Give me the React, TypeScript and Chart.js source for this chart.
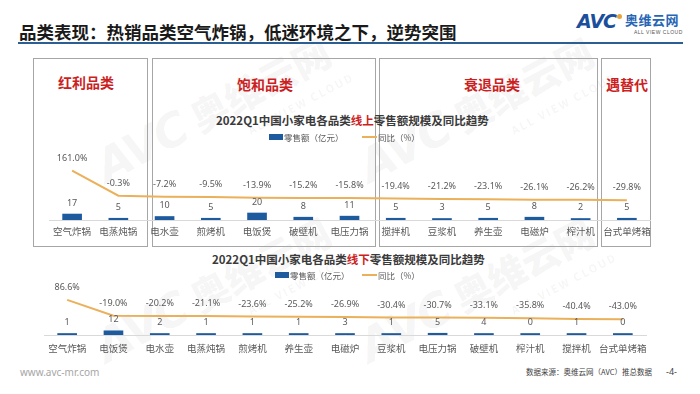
import React, { useEffect, useRef } from "react";
import { Chart, registerables } from "chart.js";

Chart.register(...registerables);

// ---------- data ----------
const onlineCategories = ["空气炸锅", "电蒸炖锅", "电水壶", "煎烤机", "电饭煲", "破壁机", "电压力锅", "搅拌机", "豆浆机", "养生壶", "电磁炉", "榨汁机", "台式单烤箱"];
const onlineSales = [17, 5, 10, 5, 20, 8, 11, 5, 3, 5, 8, 2, 5];
const onlineYoY = [161.0, -0.3, -7.2, -9.5, -13.9, -15.2, -15.8, -19.4, -21.2, -23.1, -26.1, -26.2, -29.8];

const offlineCategories = ["空气炸锅", "电饭煲", "电水壶", "电蒸炖锅", "煎烤机", "养生壶", "电磁炉", "豆浆机", "电压力锅", "破壁机", "榨汁机", "搅拌机", "台式单烤箱"];
const offlineSales = [1, 12, 2, 1, 1, 1, 3, 1, 5, 4, 0, 1, 0];
const offlineYoY = [86.6, -19.0, -20.2, -21.1, -23.6, -25.2, -26.9, -30.4, -30.7, -33.1, -35.8, -40.4, -43.0];

const salesLabel = "零售额（亿元）";
const yoyLabel = "同比（%）";

// ---------- style ----------
const BLUE = "#1E5B9E";
const GOLD = "#EBB05A";
const RED = "#CC1F1F";
const CJK = "'Noto Sans CJK SC', 'Noto Sans', sans-serif";
const NUM = "'Noto Sans', 'Noto Sans CJK SC', sans-serif";

const valueLabels = {
  id: "valueLabels",
  afterDatasetsDraw(chart: any) {
    const ctx = chart.ctx;
    ctx.save();
    ctx.font = "9px " + NUM;
    ctx.fillStyle = "#595959";
    ctx.textAlign = "center";
    ctx.textBaseline = "middle";
    chart.data.datasets.forEach((ds: any, i: number) => {
      const meta = chart.getDatasetMeta(i);
      meta.data.forEach((el: any, j: number) => {
        const v = ds.data[j];
        if (meta.type === "line") {
          ctx.fillText(v.toFixed(1) + "%", el.x, el.y - 12.5);
        } else {
          ctx.fillText(String(v), el.x, el.y - 11);
        }
      });
    });
    ctx.restore();
  },
};

type Geo = {
  left: number;
  right: number;
  top: number;
  areaH: number;
  axisH: number;
  tickPad: number;
  barPx: number; // px per unit of sales
  pctPx: number; // px per percent
  zeroFromBottom: number; // px of 0% above baseline
};

function makeConfig(labels: string[], sales: number[], yoy: number[], g: Geo): any {
  const barMax = g.areaH / g.barPx;
  const lineMin = -g.zeroFromBottom / g.pctPx;
  const lineMax = lineMin + g.areaH / g.pctPx;
  return {
    type: "bar",
    data: {
      labels,
      datasets: [
        {
          type: "line",
          label: yoyLabel,
          data: yoy,
          yAxisID: "y1",
          borderColor: GOLD,
          backgroundColor: GOLD,
          borderWidth: 2,
          pointRadius: 0,
          tension: 0,
          order: 0,
        },
        {
          type: "bar",
          label: salesLabel,
          data: sales,
          yAxisID: "y",
          backgroundColor: BLUE,
          barThickness: 19,
          minBarLength: 1.5,
          order: 1,
        },
      ],
    },
    options: {
      responsive: false,
      animation: false,
      devicePixelRatio: 1,
      layout: { padding: { left: g.left, right: g.right, top: g.top, bottom: 0 } },
      plugins: {
        legend: { display: false },
        tooltip: { enabled: false },
        title: { display: false },
      },
      scales: {
        x: {
          grid: { display: false, drawTicks: false },
          border: { display: true, color: "#D9D9D9", width: 1 },
          ticks: {
            color: "#595959",
            font: { family: CJK, size: 9.5 },
            padding: g.tickPad,
            maxRotation: 0,
            minRotation: 0,
            autoSkip: false,
          },
          afterFit: (s: any) => {
            s.height = g.axisH;
          },
        },
        y: { display: false, min: 0, max: barMax },
        y1: { display: false, position: "right", min: lineMin, max: lineMax },
      },
    },
    plugins: [valueLabels],
  };
}

function ChartCanvas(props: { top: number; height: number; labels: string[]; sales: number[]; yoy: number[]; geo: Geo }) {
  const ref = useRef<HTMLCanvasElement | null>(null);
  useEffect(() => {
    if (!ref.current) return;
    const chart = new Chart(ref.current, makeConfig(props.labels, props.sales, props.yoy, props.geo));
    return () => chart.destroy();
  }, []);
  return (
    <canvas
      ref={ref}
      width={700}
      height={props.height}
      style={{ position: "absolute", left: 0, top: props.top, width: 700, height: props.height, zIndex: 2 }}
    />
  );
}

function Abs(props: { x: number; y: number; style?: any; children?: any }) {
  return (
    <div style={{ position: "absolute", left: props.x, top: props.y, whiteSpace: "nowrap", ...(props.style || {}) }}>
      {props.children}
    </div>
  );
}

function Box(props: { l: number; r: number; t: number; b: number }) {
  return (
    <div
      style={{
        position: "absolute",
        left: props.l,
        top: props.t,
        width: props.r - props.l,
        height: props.b - props.t,
        border: "1px solid #A6A6A6",
        boxSizing: "border-box",
        zIndex: 1,
      }}
    />
  );
}

function BoxLabel(props: { cx: number; cy: number; text: string }) {
  return (
    <div
      style={{
        position: "absolute",
        left: props.cx - 50,
        top: props.cy - 9,
        width: 100,
        lineHeight: "18px",
        textAlign: "center",
        fontFamily: CJK,
        fontWeight: 700,
        fontSize: 14,
        color: RED,
        zIndex: 3,
      }}
    >
      {props.text}
    </div>
  );
}

function Watermark(props: { cx: number; cy: number }) {
  return (
    <div
      style={{
        position: "absolute",
        left: props.cx - 130,
        top: props.cy - 30,
        width: 260,
        height: 60,
        transform: "rotate(-28deg)",
        color: "rgba(120,120,120,0.07)",
        fontFamily: CJK,
        whiteSpace: "nowrap",
        zIndex: 0,
      }}
    >
      <span style={{ fontSize: 46, fontWeight: 900, fontStyle: "italic", fontFamily: "'DejaVu Sans', sans-serif", letterSpacing: -2 }}>AVC</span>
      <span style={{ fontSize: 38, fontWeight: 900, marginLeft: 10 }}>奥维云网</span>
      <div style={{ position: "absolute", left: 150, top: 56, fontSize: 11, fontWeight: 700, letterSpacing: 2 }}>ALL VIEW CLOUD</div>
    </div>
  );
}

function ChartTitle(props: { y: number; x: number; word: string }) {
  return (
    <Abs x={props.x} y={props.y} style={{ fontFamily: CJK, fontWeight: 700, fontSize: 11.5, lineHeight: "16px", color: "#3A3A3A", zIndex: 3 }}>
      2022Q1中国小家电各品类<span style={{ color: RED }}>{props.word}</span>零售额规模及同比趋势
    </Abs>
  );
}

function Legend(props: { y: number; barX: number; lineX: number }) {
  const txt = { fontFamily: CJK, fontSize: 8.5, color: "#595959", lineHeight: "12px" };
  return (
    <>
      <div style={{ position: "absolute", left: props.barX, top: props.y - 3, width: 14, height: 6, background: BLUE, zIndex: 3 }} />
      <Abs x={props.barX + 15} y={props.y - 6} style={{ ...txt, zIndex: 3 }}>{salesLabel}</Abs>
      <div style={{ position: "absolute", left: props.lineX, top: props.y - 1, width: 15, height: 2, background: GOLD, zIndex: 3 }} />
      <Abs x={props.lineX + 16} y={props.y - 6} style={{ ...txt, zIndex: 3 }}>{yoyLabel}</Abs>
    </>
  );
}

export default function App() {
  const topGeo: Geo = { left: 49, right: 50, top: 10, areaH: 80, axisH: 25, tickPad: 6, barPx: 0.35, pctPx: 0.155, zeroFromBottom: 24.4 };
  const botGeo: Geo = { left: 44, right: 54, top: 20, areaH: 40, axisH: 35, tickPad: 8, barPx: 0.35, pctPx: 0.15, zeroFromBottom: 22.1 };
  return (
    <div style={{ position: "fixed", left: 0, top: 0, width: 700, height: 394, background: "#fff", overflow: "hidden", fontFamily: CJK }}>
      {/* watermarks */}
      <Watermark cx={215} cy={110} />
      <Watermark cx={478} cy={110} />
      <Watermark cx={215} cy={290} />
      <Watermark cx={478} cy={290} />

      {/* header */}
      <Abs x={19} y={21} style={{ fontSize: 17.5, fontWeight: 700, lineHeight: "22px", color: "#1A1A1A" }}>
        品类表现：热销品类空气炸锅，低迷环境之下，逆势突围
      </Abs>
      <div style={{ position: "absolute", left: 18, top: 42, width: 665, height: 2, background: "#2B5F93" }} />
      <Abs x={577} y={9} style={{ fontFamily: "'DejaVu Sans', sans-serif", fontSize: 19, fontWeight: 900, fontStyle: "italic", color: "#1B4F9C", letterSpacing: -1, lineHeight: "24px" }}>
        AVC
      </Abs>
      <div style={{ position: "absolute", left: 617, top: 14, width: 5, height: 5, borderRadius: 3, background: "#E8A23A" }} />
      <Abs x={625} y={12} style={{ fontSize: 13, fontWeight: 700, color: "#2766B5", lineHeight: "16px", letterSpacing: 0.5 }}>
        奥维云网
      </Abs>
      <Abs x={634} y={29} style={{ fontFamily: "'Liberation Sans', sans-serif", fontSize: 5, color: "#555", lineHeight: "6px", letterSpacing: 0.5 }}>
        ALL VIEW CLOUD
      </Abs>

      {/* category boxes */}
      <Box l={33} r={148} t={58} b={247} />
      <Box l={152} r={376} t={58} b={247} />
      <Box l={379} r={598} t={58} b={247} />
      <Box l={601} r={651} t={58} b={247} />
      <BoxLabel cx={86} cy={82} text="红利品类" />
      <BoxLabel cx={265} cy={84} text="饱和品类" />
      <BoxLabel cx={492} cy={84} text="衰退品类" />
      <BoxLabel cx={627} cy={84} text="遇替代" />

      {/* chart titles & legends */}
      <ChartTitle x={216} y={112} word="线上" />
      <Legend y={137} barX={269} lineX={362} />
      <ChartTitle x={212} y={251} word="线下" />
      <Legend y={275} barX={275} lineX={362} />

      <ChartCanvas top={130} height={115} labels={onlineCategories} sales={onlineSales} yoy={onlineYoY} geo={topGeo} />
      <ChartCanvas top={275} height={95} labels={offlineCategories} sales={offlineSales} yoy={offlineYoY} geo={botGeo} />

      {/* footer */}
      <Abs x={20} y={365} style={{ fontFamily: "'Noto Sans', sans-serif", fontSize: 10, color: "#A6A6A6", lineHeight: "14px" }}>
        www.avc-mr.com
      </Abs>
      <Abs x={526} y={367} style={{ fontSize: 7.5, color: "#404040", lineHeight: "10px" }}>
        数据来源：奥维云网（AVC）推总数据
      </Abs>
      <Abs x={666} y={366} style={{ fontFamily: "'Noto Sans', sans-serif", fontSize: 9, color: "#404040", lineHeight: "12px" }}>
        -4-
      </Abs>
    </div>
  );
}
